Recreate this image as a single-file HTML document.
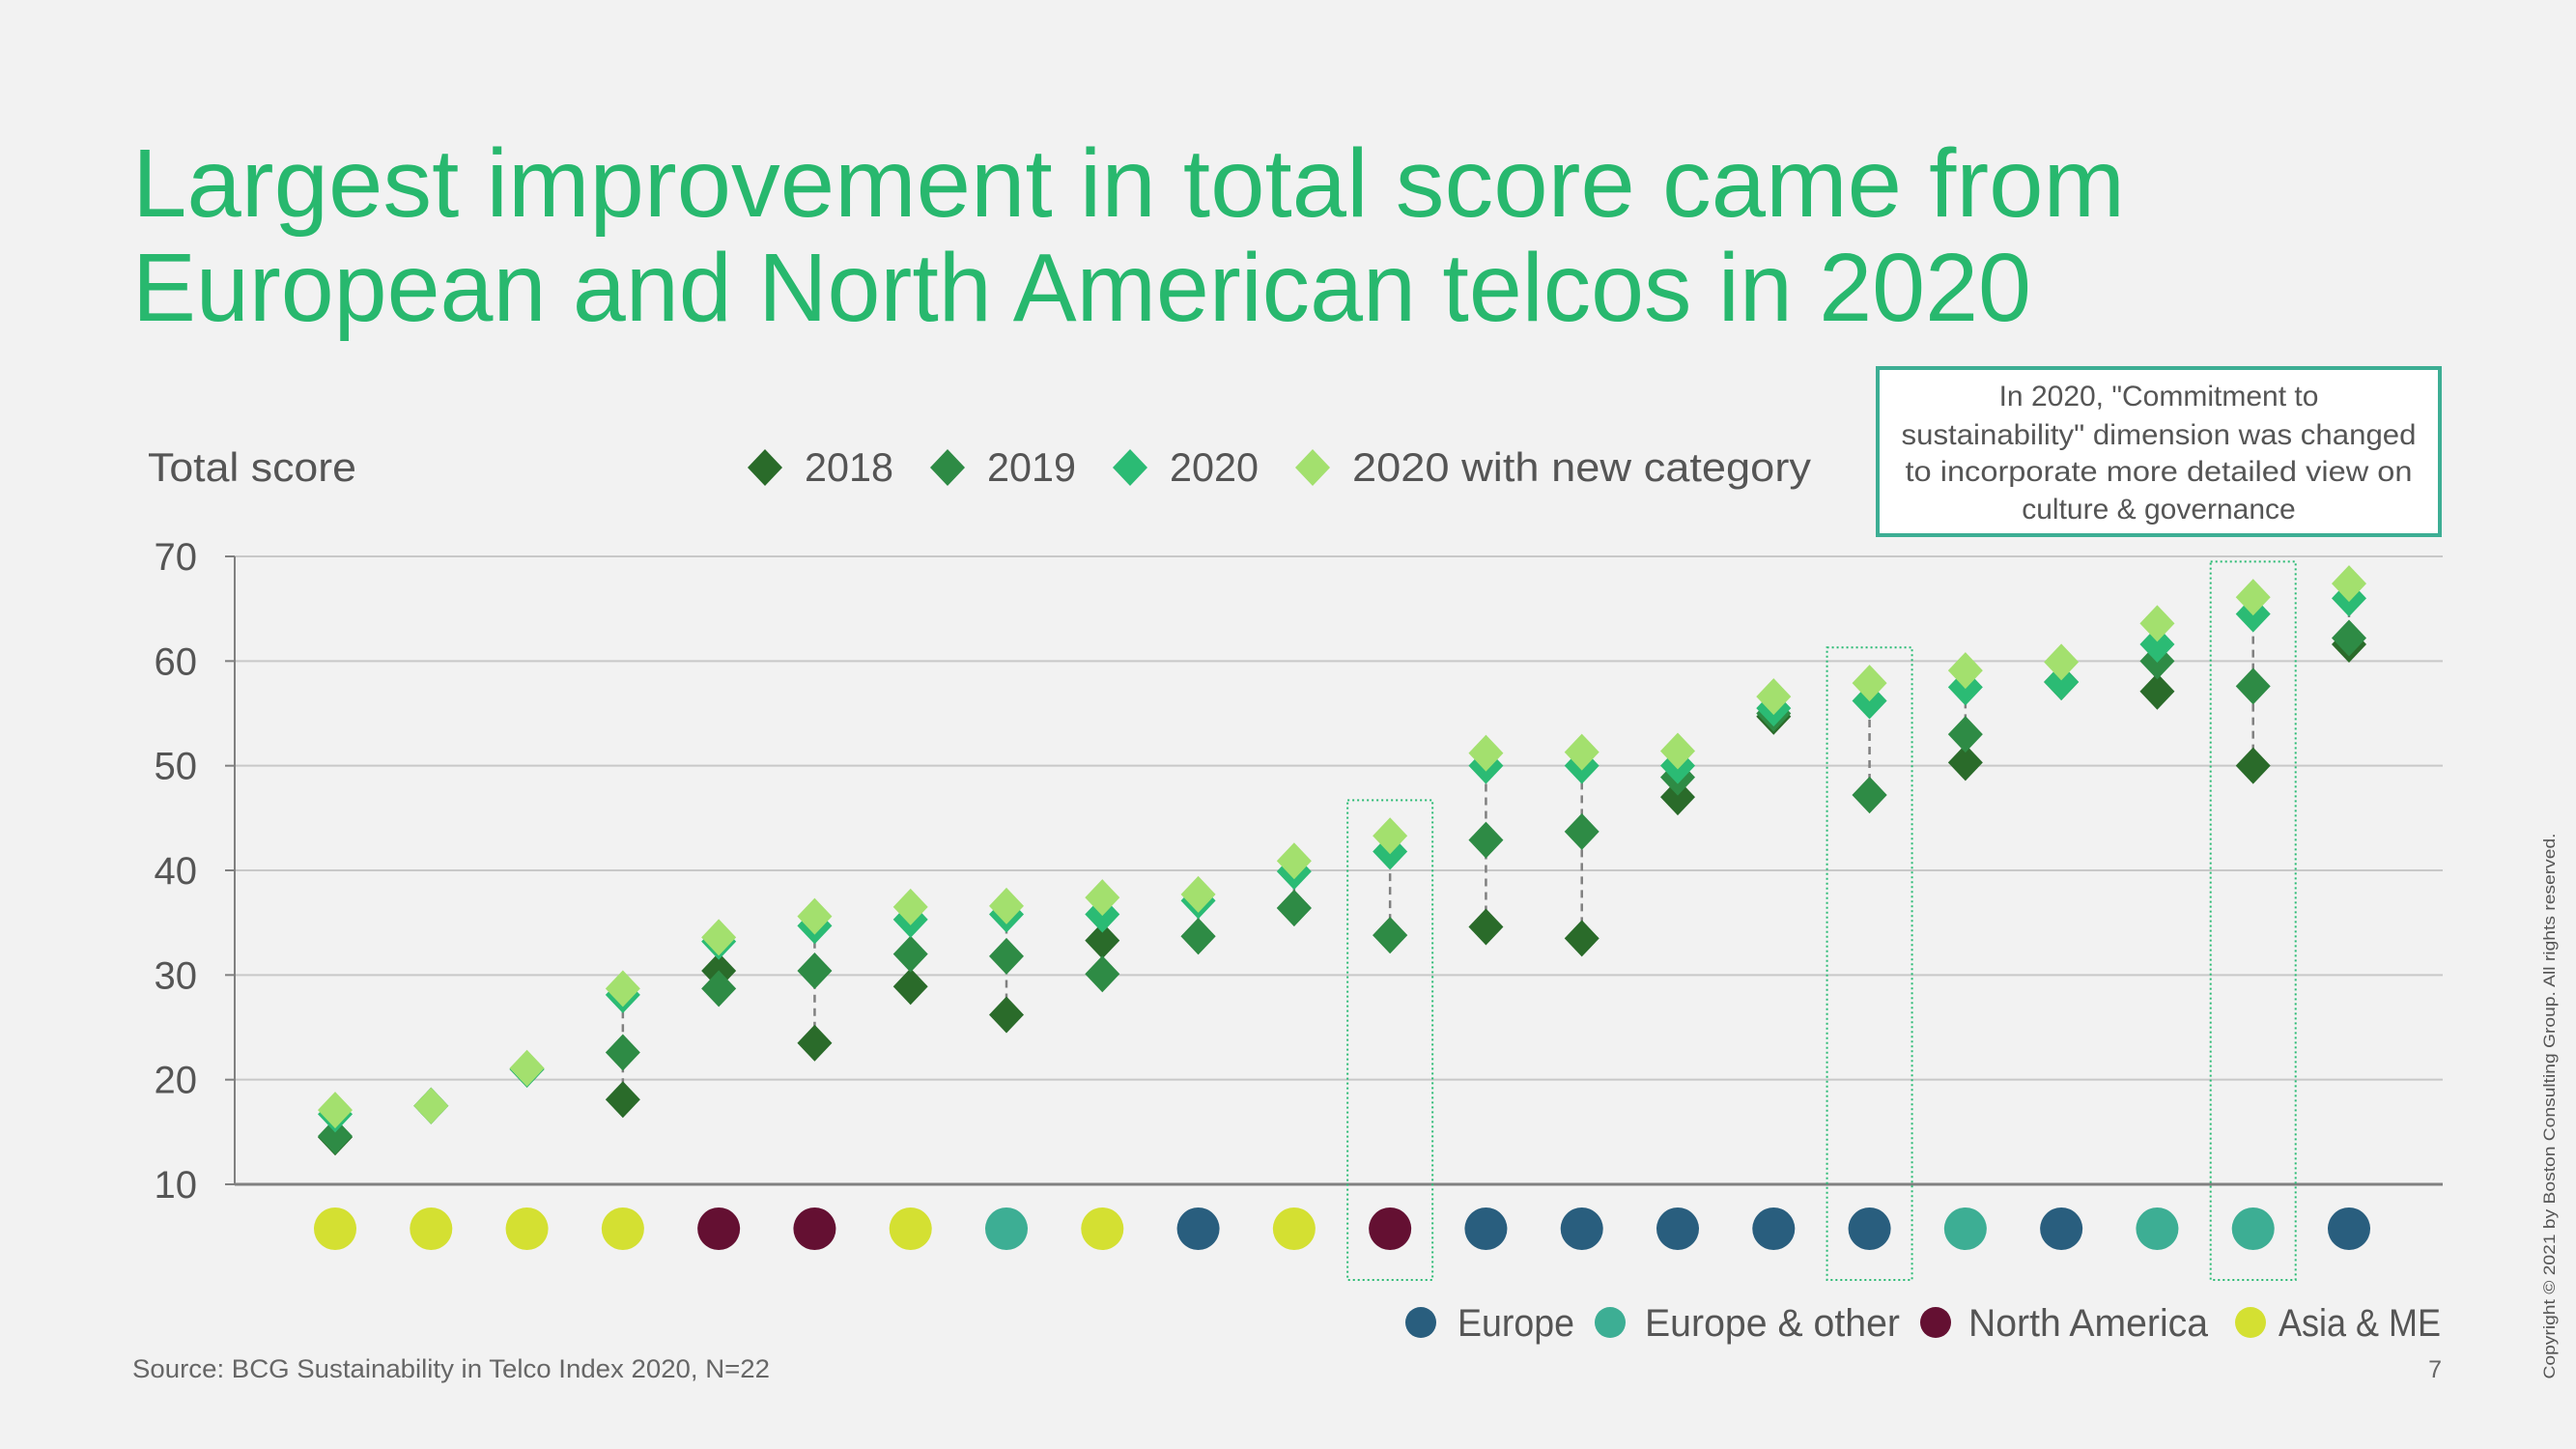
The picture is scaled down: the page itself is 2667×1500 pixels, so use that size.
<!DOCTYPE html>
<html><head><meta charset="utf-8"><style>
html,body{margin:0;padding:0;background:#f2f2f2;}
svg{display:block;font-family:"Liberation Sans",sans-serif;}
</style></head><body>
<svg id="chart" width="2667" height="1500" viewBox="0 0 2667 1500" xmlns="http://www.w3.org/2000/svg">
<rect width="2667" height="1500" fill="#f2f2f2"/>
<text x="137" y="224" font-size="100" fill="#28b86e" textLength="2063" lengthAdjust="spacingAndGlyphs">Largest improvement in total score came from</text>
<text x="137" y="332" font-size="100" fill="#28b86e" textLength="1966" lengthAdjust="spacingAndGlyphs">European and North American telcos in 2020</text>
<text x="153" y="498" font-size="42" fill="#555" textLength="216" lengthAdjust="spacingAndGlyphs">Total score</text>
<g id="legend"></g>
<g>
<rect x="1944" y="381" width="582" height="173" fill="#fff" stroke="#3dae94" stroke-width="4"/>
<text x="2235" y="420" font-size="30" fill="#555" text-anchor="middle">In 2020, "Commitment to</text>
<text x="2235" y="460" font-size="30" fill="#555" text-anchor="middle" textLength="533" lengthAdjust="spacingAndGlyphs">sustainability" dimension was changed</text>
<text x="2235" y="498" font-size="30" fill="#555" text-anchor="middle" textLength="525" lengthAdjust="spacingAndGlyphs">to incorporate more detailed view on</text>
<text x="2235" y="537" font-size="30" fill="#555" text-anchor="middle">culture &amp; governance</text>
</g>
<g id="grid"></g>
<g id="marks"></g>
<g id="rlegend"></g>
<text x="137" y="1426" font-size="27" fill="#666" textLength="660" lengthAdjust="spacingAndGlyphs">Source: BCG Sustainability in Telco Index 2020, N=22</text>
<text x="2528" y="1426" font-size="25" fill="#666" text-anchor="end">7</text>
<text transform="translate(2645,1145) rotate(-90)" font-size="17" fill="#555" text-anchor="middle" textLength="565" lengthAdjust="spacingAndGlyphs">Copyright © 2021 by Boston Consulting Group. All rights reserved.</text>
</svg>
<script>
const categories = ["c1","c2","c3","c4","c5","c6","c7","c8","c9","c10","c11","c12","c13","c14","c15","c16","c17","c18","c19","c20","c21","c22"];
const s2018 = [14.5,17.5,21,18.1,30.4,23.5,28.9,26.2,33.3,33.7,36.4,33.8,34.6,33.5,47,54.7,47.2,50.3,58,57.1,50,61.6];
const s2019 = [14.6,17.5,21,22.6,28.7,30.4,32,31.8,30.1,33.7,36.4,33.8,42.9,43.7,48.9,55,47.2,53,58,60,57.6,62.2];
const s2020 = [16.7,17.5,21,28.1,33.2,34.7,35.3,35.8,35.8,37.1,39.9,41.8,50,50,50,55.5,56.2,57.5,58,61.6,64.5,66];
const sNew = [17.1,17.5,21.1,28.7,33.6,35.6,36.5,36.6,37.4,37.7,40.9,43.3,51.2,51.3,51.4,56.6,57.9,59.1,59.9,63.6,66.1,67.4];
const regions = ["A","A","A","A","N","N","A","O","A","E","A","N","E","E","E","E","E","O","E","O","O","E"];
const highlighted = [11,16,20];
const yTicks = [10,20,30,40,50,60,70];
const seriesNames = ["2018","2019","2020","2020 with new category"];
const regionNames = ["Europe","Europe & other","North America","Asia & ME"];

const NS="http://www.w3.org/2000/svg";
const colors={"2018":"#2a6b2a","2019":"#2e8b45","2020":"#2bbb74","2020 with new category":"#a3e06e"};
const rc={E:"#295e7e",O:"#3dae94",N:"#641032",A:"#d4e032"};
const rKeys=["E","O","N","A"];
const x0=243,x1=2529,yTop=576,yBot=1226;
const y=v=>yBot-(v-10)/60*(yBot-yTop);
const x=i=>347+i*(2432-347)/(categories.length-1);
function el(t,a,p){const e=document.createElementNS(NS,t);for(const k in a)e.setAttribute(k,a[k]);p.appendChild(e);return e;}
const grid=document.getElementById('grid'),marks=document.getElementById('marks');
yTicks.forEach(t=>{
  const g=el('line',{x1:x0,x2:x1,y1:y(t),y2:y(t),stroke:t===10?'#808080':'#c8c8c8','stroke-width':t===10?3:2},grid);
  
  
  el('line',{x1:x0-10,x2:x0,y1:y(t),y2:y(t),stroke:'#808080','stroke-width':2},grid);
  const tx=el('text',{x:204,y:y(t)+14,'font-size':40,fill:'#555','text-anchor':'end'},grid);
  tx.textContent=t;
  
  
});
el('line',{x1:x0,x2:x0,y1:yTop,y2:yBot,stroke:'#808080','stroke-width':2},grid);
function diamond(cx,cy,c,p){return el('path',{d:`M${cx} ${cy-19}L${cx+18} ${cy}L${cx} ${cy+19}L${cx-18} ${cy}Z`,fill:c},p);}
highlighted.forEach(i=>{
  const top=Math.max(yTop,y(sNew[i]+3.4));
  const r=el('rect',{x:x(i)-44,y:top,width:88,height:1325-top,fill:'none',stroke:'#2bbb74','stroke-width':2,'stroke-dasharray':'2 3'},marks);
  
  
});
categories.forEach((c,i)=>{
  const vals=[s2018[i],s2019[i],s2020[i],sNew[i]];
  const lo=Math.min(...vals),hi=Math.max(...vals);
  if(hi-lo>1){el('line',{x1:x(i),x2:x(i),y1:y(lo),y2:y(hi),stroke:'#808080','stroke-width':2.5,'stroke-dasharray':'8 6'},marks);}
  const sers=[s2018,s2019,s2020,sNew];
  sers.forEach((s,k)=>{
    const d=diamond(x(i),y(s[i]),colors[seriesNames[k]],marks);
    
    
  });
  const ci=el('circle',{cx:x(i),cy:1272,r:22,fill:rc[regions[i]]},marks);
  
  
});
const lg=document.getElementById('legend');
const lx=[792,981,1170,1359];
const lw=[92,92,92,475];
seriesNames.forEach((n,k)=>{
  const d=diamond(lx[k],484,colors[n],lg);
  
  
  const t=el('text',{x:lx[k]+41,y:498,'font-size':42,fill:'#555',textLength:lw[k],lengthAdjust:'spacingAndGlyphs'},lg);
  t.textContent=n;
  
  
});
const rl=document.getElementById('rlegend');
const rx=[1471,1667,2004,2330];
const rtx=[1509,1703,2038,2359];
const rw=[121,264,248,168];
regionNames.forEach((n,k)=>{
  const ci=el('circle',{cx:rx[k],cy:1369,r:16,fill:rc[rKeys[k]]},rl);
  
  
  const t=el('text',{x:rtx[k],y:1383,'font-size':40,fill:'#555',textLength:rw[k],lengthAdjust:'spacingAndGlyphs'},rl);
  t.textContent=n;
  
  
});
</script>
</body></html>
